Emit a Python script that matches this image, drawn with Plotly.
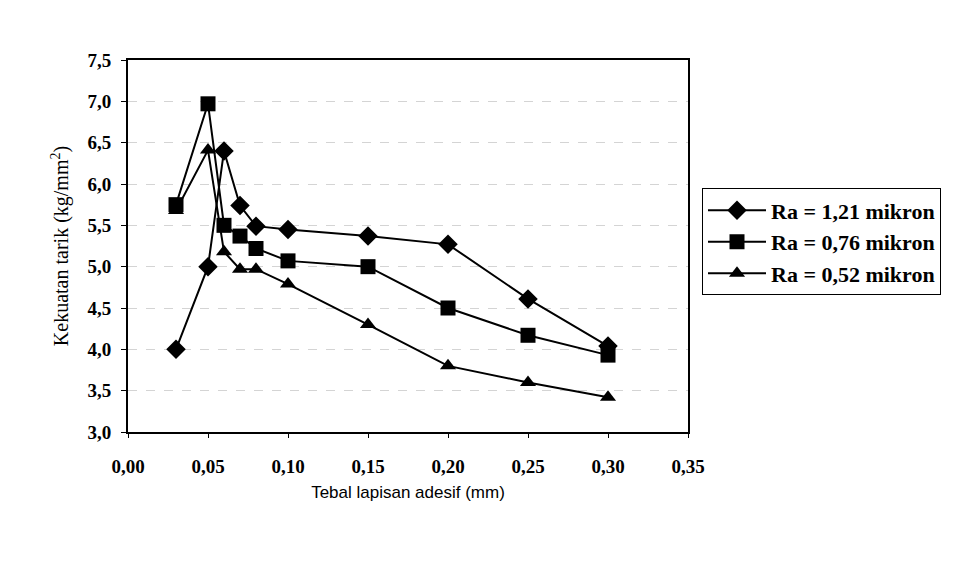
import plotly.graph_objects as go

x_vals = [0.03, 0.05, 0.06, 0.07, 0.08, 0.10, 0.15, 0.20, 0.25, 0.30]
ra121 = [4.00, 5.00, 6.40, 5.74, 5.49, 5.45, 5.37, 5.27, 4.61, 4.04]
ra076 = [5.75, 6.97, 5.50, 5.37, 5.22, 5.07, 5.00, 4.50, 4.17, 3.93]
ra052 = [5.68, 6.41, 5.18, 4.97, 4.97, 4.79, 4.30, 3.80, 3.60, 3.42]
names = ["Ra = 1,21 mikron", "Ra = 0,76 mikron", "Ra = 0,52 mikron"]
symbols = ["diamond", "square", "triangle-up"]
sizes = [15, 15, 14]

fig = go.Figure()
for ys, nm, sym, sz in zip([ra121, ra076, ra052], names, symbols, sizes):
    fig.add_trace(go.Scatter(
        x=x_vals, y=ys, name=nm, mode="lines+markers",
        line=dict(color="black", width=2),
        marker=dict(symbol=sym, size=sz, color="black", line=dict(width=0)),
    ))

serif = "Liberation Serif"
fig.update_layout(
    width=975, height=561,
    margin=dict(l=120, r=295, t=52, b=137),
    paper_bgcolor="white", plot_bgcolor="white",
    separators=",.",
    showlegend=True,
    legend=dict(
        x=1.025, y=0.655, xanchor="left", yanchor="top",
        bordercolor="black", borderwidth=1,
        font=dict(family=serif, size=22, color="black", weight="bold"),
        tracegroupgap=0, itemwidth=58,
    ),
    xaxis=dict(
        range=[0, 0.35], dtick=0.05, tickformat=".2f",
        showline=True, linecolor="black", linewidth=2, mirror=True,
        ticks="outside", ticklen=4, tickcolor="black",
        ticklabelstandoff=12,
        showgrid=False, zeroline=False,
        tickfont=dict(family=serif, size=19, color="black", weight="bold"),
        title=dict(text="Tebal lapisan adesif (mm)",
                   font=dict(family="Liberation Sans", size=17, color="black"),
                   standoff=10),
    ),
    yaxis=dict(
        range=[3.0, 7.5], dtick=0.5, tickformat=".1f",
        showline=True, linecolor="black", linewidth=2, mirror=True,
        ticks="outside", ticklen=5, tickcolor="black",
        ticklabelstandoff=6,
        showgrid=True, gridcolor="#d4d4d4", griddash="dash", gridwidth=1,
        zeroline=False,
        tickfont=dict(family=serif, size=19, color="black", weight="bold"),
        title=dict(text="Kekuatan tarik (kg/mm<sup>2</sup>)",
                   font=dict(family=serif, size=20, color="black"),
                   standoff=13),
    ),
)

fig.write_html("out.html")
